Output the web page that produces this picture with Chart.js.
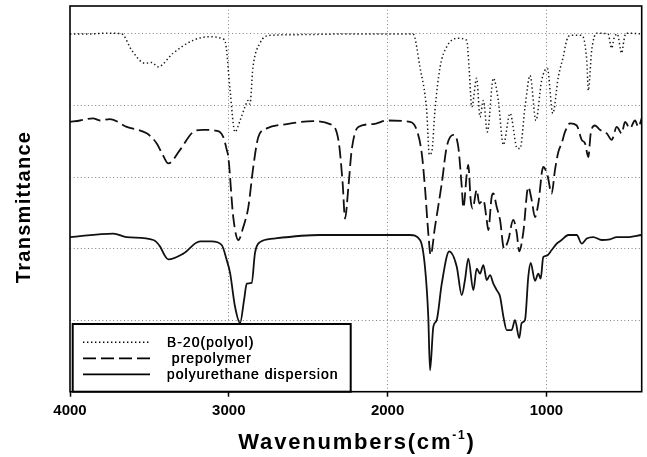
<!DOCTYPE html>
<html>
<head>
<meta charset="utf-8">
<script src="https://cdn.jsdelivr.net/npm/chart.js@4/dist/chart.umd.min.js"></script>
<style>
html,body{margin:0;padding:0;background:#fff;}
#wrap{width:647px;height:457px;position:relative;}
</style>
</head>
<body>
<div id="wrap"><canvas id="c"></canvas></div>
<script>
const seriesNames = ["B-20(polyol)", " prepolymer", "polyurethane dispersion"];
const xTickValues = [4000, 3000, 2000, 1000];
const yGridValues = [0, 1, 2, 3, 4, 5];

const polyolWn = [4000,3874,3769,3674,3611,3528,3484,3446,3351,3225,3131,3037,3018,2992,2961,2929,2898,2879,2867,2848,2804,2741,2552,2237,1840,1796,1754,1737,1720,1702,1670,1628,1557,1502,1487,1470,1439,1418,1397,1372,1334,1303,1271,1229,1183,1166,1135,1103,1066,1030,994,960,925,894,872,851,778,746,736,715,683,612,589,574,554,526,512,499,400];
const polyolT = [5.00,5.00,5.01,5.00,4.77,4.59,4.60,4.54,4.73,4.91,4.96,4.93,4.84,4.21,3.63,3.79,3.98,4.07,4.02,4.53,4.87,4.98,4.99,5.00,5.00,4.53,3.93,3.31,3.38,3.93,4.53,4.82,4.94,4.91,4.53,3.98,4.38,3.84,4.07,3.63,4.38,4.07,3.45,3.89,3.40,3.40,3.97,4.42,3.79,4.35,4.52,3.89,4.40,4.68,4.91,4.98,4.98,4.63,4.21,4.77,5.01,5.00,4.80,4.94,5.00,4.73,4.91,5.01,5.00];

const prepWn = [4000,3937,3855,3811,3748,3643,3517,3454,3414,3381,3307,3224,3162,3087,3035,3013,3003,2972,2940,2909,2877,2846,2814,2761,2635,2468,2363,2310,2283,2268,2247,2226,2185,2090,2006,1859,1817,1785,1765,1744,1729,1702,1659,1628,1586,1555,1533,1523,1502,1492,1477,1464,1439,1423,1397,1376,1366,1345,1334,1313,1292,1267,1240,1209,1187,1171,1146,1114,1093,1072,1051,1020,994,967,946,925,904,883,851,809,778,757,736,721,694,663,620,589,557,526,505,474,442,421,400];
const prepT = [3.77,3.79,3.82,3.79,3.81,3.70,3.61,3.47,3.30,3.19,3.38,3.63,3.66,3.65,3.56,3.38,3.28,2.44,2.12,2.30,2.58,3.14,3.56,3.68,3.74,3.78,3.74,3.52,2.91,2.42,2.86,3.38,3.70,3.74,3.79,3.77,3.66,3.33,2.86,2.22,1.91,2.30,2.91,3.42,3.59,3.42,2.86,2.57,3.03,3.17,2.68,2.56,2.82,2.63,2.68,2.40,2.26,2.72,2.77,2.58,2.40,2.00,2.12,2.40,2.22,1.96,2.22,2.86,2.68,2.44,2.63,3.14,3.03,2.77,3.10,3.35,3.47,3.63,3.75,3.72,3.52,3.47,3.28,3.61,3.72,3.66,3.61,3.52,3.70,3.61,3.77,3.68,3.79,3.70,3.82];

const puWn = [4000,3727,3643,3475,3433,3408,3381,3287,3181,3108,3045,3013,2992,2961,2929,2904,2887,2856,2835,2804,2720,2426,2216,1922,1859,1796,1765,1744,1733,1712,1691,1659,1612,1565,1533,1513,1492,1460,1439,1418,1397,1376,1355,1334,1313,1292,1271,1250,1219,1198,1171,1156,1135,1114,1099,1072,1051,1036,1020,998,967,935,904,862,809,778,746,705,652,600,557,494,400];
const puT = [2.16,2.21,2.16,2.12,2.03,1.92,1.85,1.93,2.10,2.10,2.05,1.84,1.66,1.19,0.96,1.28,1.51,1.52,1.94,2.09,2.14,2.19,2.19,2.19,2.19,2.12,1.75,1.05,0.30,0.91,1.00,1.51,1.96,1.75,1.35,1.56,1.86,1.42,1.72,1.65,1.77,1.56,1.63,1.51,1.42,1.33,1.05,0.86,0.86,1.00,0.75,0.96,1.00,1.61,1.80,1.55,1.65,1.58,1.88,1.90,1.98,2.07,2.12,2.19,2.19,2.07,2.14,2.16,2.12,2.13,2.16,2.16,2.19];

const FONT = '"Liberation Sans", Arial, Helvetica, sans-serif';
const pts = (xs, ys) => xs.map((x, i) => ({x: x, y: ys[i]}));

const styles = [
  {dash: [1.4, 2.6], width: 1.5},
  {dash: [13, 5], width: 1.8},
  {dash: [], width: 1.8}
];

const decorPlugin = {
  id: 'decor',
  afterDatasetsDraw(chart) {
    const ctx = chart.ctx;
    const a = chart.chartArea;
    ctx.save();
    ctx.strokeStyle = '#000';
    ctx.lineWidth = 1.6;
    ctx.setLineDash([]);
    ctx.strokeRect(a.left, a.top, a.right - a.left, a.bottom - a.top);
    const bx = 72.7, by = 324, bw = 278, bh = a.bottom - 324;
    ctx.fillStyle = '#fff';
    ctx.fillRect(bx, by, bw, bh);
    ctx.lineWidth = 2;
    ctx.strokeRect(bx, by, bw, bh);
    const rows = [342.3, 358.3, 374.3];
    ctx.font = '14px ' + FONT;
    ctx.fillStyle = '#000';
    ctx.textBaseline = 'middle';
    ctx.textAlign = 'left';
    ctx.letterSpacing = '1px';
    chart.data.datasets.forEach((ds, i) => {
      const y = rows[i];
      ctx.beginPath();
      ctx.lineWidth = styles[i].width;
      ctx.setLineDash(styles[i].dash);
      ctx.moveTo(83, y);
      ctx.lineTo(150, y);
      ctx.stroke();
      ctx.setLineDash([]);
      ctx.fillText(ds.label, 166.7, y + 1);
      ctx.fillText(ds.label, 167.1, y + 1);
    });
    ctx.restore();
  },
  afterDraw(chart) {
    const ctx = chart.ctx;
    ctx.save();
    ctx.fillStyle = '#000';
    ctx.translate(24, 207);
    ctx.rotate(-Math.PI / 2);
    ctx.font = 'bold 20px ' + FONT;
    ctx.letterSpacing = '1.3px';
    ctx.textAlign = 'center';
    ctx.textBaseline = 'middle';
    ctx.fillText('Transmittance', 0, 0);
    ctx.restore();
    ctx.save();
    ctx.fillStyle = '#000';
    ctx.textAlign = 'left';
    ctx.textBaseline = 'alphabetic';
    ctx.letterSpacing = '1.8px';
    const main = 'Wavenumbers(cm';
    const sup = '-1';
    const close = ')';
    ctx.font = 'bold 22px ' + FONT;
    const w1 = ctx.measureText(main).width;
    const w3 = ctx.measureText(close).width;
    ctx.font = 'bold 12px ' + FONT;
    const w2 = ctx.measureText(sup).width;
    const total = w1 + w2 + w3;
    let x = 357 - total / 2;
    const base = 449;
    ctx.font = 'bold 22px ' + FONT;
    ctx.fillText(main, x, base);
    x += w1;
    ctx.font = 'bold 12px ' + FONT;
    ctx.fillText(sup, x, base - 10);
    x += w2;
    ctx.font = 'bold 22px ' + FONT;
    ctx.fillText(close, x, base);
    ctx.restore();
  }
};

new Chart(document.getElementById('c'), {
  type: 'line',
  data: {
    datasets: [
      {label: seriesNames[0], data: pts(polyolWn, polyolT), borderColor: '#1a1a1a', borderWidth: styles[0].width, borderDash: styles[0].dash},
      {label: seriesNames[1], data: pts(prepWn, prepT), borderColor: '#111', borderWidth: styles[1].width, borderDash: styles[1].dash},
      {label: seriesNames[2], data: pts(puWn, puT), borderColor: '#111', borderWidth: styles[2].width, borderDash: styles[2].dash}
    ]
  },
  options: {
    responsive: true,
    maintainAspectRatio: false,
    animation: false,
    layout: {padding: {top: 6, right: 5.3, left: 0, bottom: 0}},
    elements: {
      point: {radius: 0, hoverRadius: 0},
      line: {tension: 0, cubicInterpolationMode: 'monotone', fill: false}
    },
    plugins: {legend: {display: false}, tooltip: {enabled: false}},
    scales: {
      x: {
        type: 'linear',
        reverse: true,
        min: 400,
        max: 4000,
        afterBuildTicks: s => { s.ticks = xTickValues.map(v => ({value: v})); },
        afterFit: s => { s.height = 65.3; },
        ticks: {
          color: '#000',
          font: {family: FONT, size: 15, weight: 'bold'},
          padding: 5,
          maxRotation: 0,
          autoSkip: false,
          callback: v => String(v)
        },
        grid: {
          color: c => (c.tick && c.tick.value === 4000) ? 'rgba(0,0,0,0)' : '#808080',
          lineWidth: 1,
          drawTicks: true,
          tickLength: 5,
          tickColor: '#000',
          tickWidth: 1.5
        },
        border: {display: false, dash: [1, 2.6]}
      },
      y: {
        type: 'linear',
        min: 0,
        max: 5.39,
        afterBuildTicks: s => { s.ticks = yGridValues.map(v => ({value: v})); },
        afterFit: s => { s.width = 70; },
        ticks: {display: false},
        grid: {
          color: c => (c.tick && c.tick.value === 0) ? 'rgba(0,0,0,0)' : '#808080',
          lineWidth: 1,
          drawTicks: false
        },
        border: {display: false, dash: [1, 2.6]}
      }
    }
  },
  plugins: [decorPlugin]
});
</script>
</body>
</html>
